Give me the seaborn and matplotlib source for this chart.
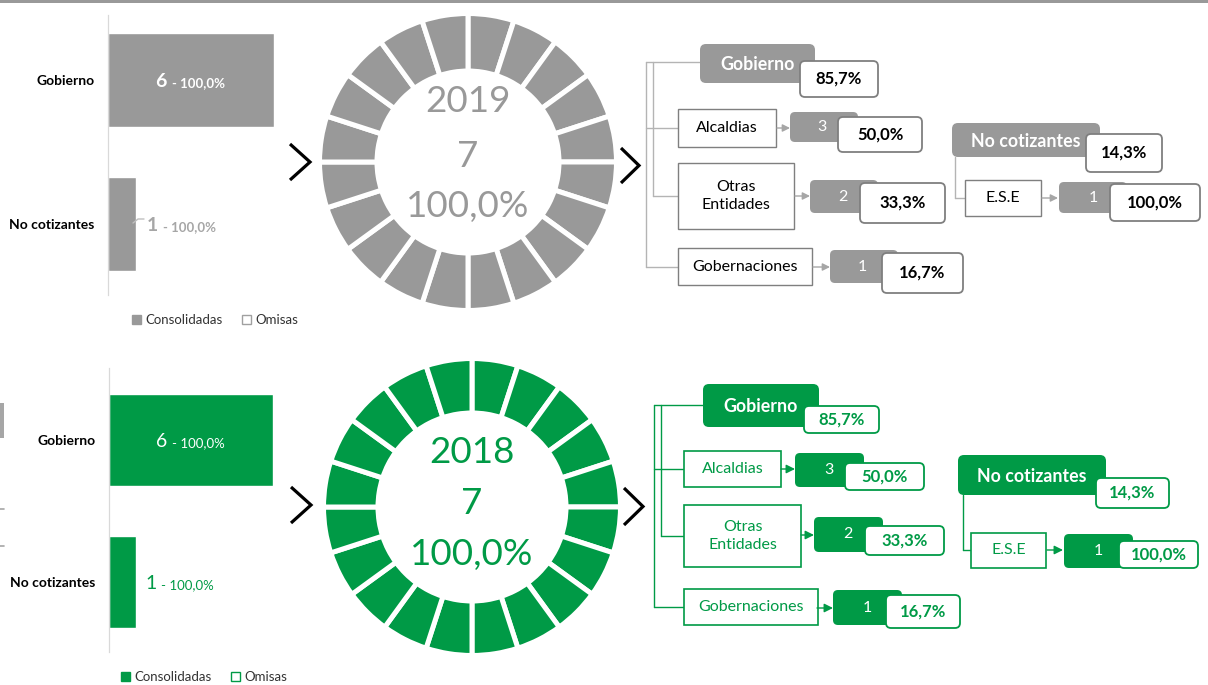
import matplotlib
matplotlib.use("Agg")
import matplotlib.pyplot as plt
import pandas as pd
import seaborn as sns
from matplotlib.patches import FancyBboxPatch, Rectangle, Patch

sns.set_theme(style="white")
plt.rcParams["font.family"] = ["Lato", "DejaVu Sans"]

W, H = 1208, 685

# ---------------- data ----------------
categories = ["Gobierno", "No cotizantes"]
consolidadas_2019 = [6, 1]
consolidadas_2018 = [6, 1]
cat_pct_2019 = ["100,0%", "100,0%"]
cat_pct_2018 = ["100,0%", "100,0%"]
legend_labels = ["Consolidadas", "Omisas"]

years = ["2019", "2018"]
year_totals = [7, 7]
year_pct_text = ["100,0%", "100,0%"]
year_pct = [100.0, 100.0]

group_share = ["85,7%", "14,3%"]
gob_entities = ["Alcaldias", "Otras\nEntidades", "Gobernaciones"]
gob_counts = [3, 2, 1]
gob_pct = ["50,0%", "33,3%", "16,7%"]
nocot_entities = ["E.S.E"]
nocot_counts = [1]
nocot_pct = ["100,0%"]

GRAY = "#999999"
GREEN = "#009a46"
RING_SEGMENTS = 20

fig = plt.figure(figsize=(W / 100, H / 100), dpi=100)
fig.patch.set_facecolor("white")


def px_axes(x0, y0, x1, y1):
    return fig.add_axes([x0 / W, 1 - y1 / H, (x1 - x0) / W, (y1 - y0) / H])


# ---------------- horizontal bar panels ----------------
def bar_panel(rect, ylim, values, pct_labels, color, bold, out_color,
              hollow_edge, legend_xy, inside_dx, outside_dx):
    ax = px_axes(*rect)
    df = pd.DataFrame({"cat": categories, "n": values})
    sns.barplot(data=df, x="n", y="cat", orient="h", color=color,
                saturation=1, width=0.65, ax=ax, zorder=2)
    ax.set_xlim(0, 6)
    ax.set_ylim(*ylim)
    ax.set_xlabel("")
    ax.set_ylabel("")
    ax.set_xticks([])
    ax.set_yticks([0, 1])
    ax.set_yticklabels(categories, fontweight="bold", fontsize=10,
                       color="black")
    ax.tick_params(axis="y", length=0, pad=9.5)
    for s in ("top", "right", "bottom"):
        ax.spines[s].set_visible(False)
    ax.spines["left"].set_color("#d9d9d9")
    ax.spines["left"].set_linewidth(0.9)
    ax.patch.set_alpha(0)
    fw = "bold" if bold else "normal"
    for i, (v, p) in enumerate(zip(values, pct_labels)):
        if v >= 3:
            x, dx, c = v / 2, inside_dx, "white"
        else:
            x, dx, c = v, outside_dx, out_color
        ax.annotate(str(v), xy=(x, i), xytext=(dx, -7),
                    textcoords="offset pixels", ha="right", va="baseline",
                    fontsize=14, fontweight=fw, color=c,
                    annotation_clip=False)
        ax.annotate("- " + p, xy=(x, i), xytext=(dx + 5, -7),
                    textcoords="offset pixels", ha="left", va="baseline",
                    fontsize=9.5, fontweight=fw, color=c,
                    annotation_clip=False)
    handles = [Patch(facecolor=color, edgecolor=color),
               Patch(facecolor="white", edgecolor=hollow_edge, linewidth=1)]
    ax.legend(handles, legend_labels, ncol=2, frameon=False,
              loc="center left",
              bbox_to_anchor=(legend_xy[0] / W, 1 - legend_xy[1] / H),
              bbox_transform=fig.transFigure, fontsize=9.5,
              handlelength=0.7, handleheight=0.7, handletextpad=0.3,
              columnspacing=1.5, borderpad=0, borderaxespad=0,
              labelcolor="#333333")
    return ax


bar_panel((108, 15, 274, 295), (1 + 71 / 144, -65 / 144),
          consolidadas_2019, cat_pct_2019, GRAY, True, "#a6a6a6",
          "#a0a0a0", (132, 320), -24, 22)
bar_panel((109, 368, 273, 652), (1 + 70 / 142, -72 / 142),
          consolidadas_2018, cat_pct_2018, GREEN, False, GREEN,
          GREEN, (121, 677), -24, 20)


# ---------------- segmented rings ----------------
def ring(cx, cy, R, rin, color, share):
    ax = px_axes(cx - R, cy - R, cx + R, cy + R)
    filled = int(round(share / 100 * RING_SEGMENTS))
    colors = [color] * filled + ["#e6e6e6"] * (RING_SEGMENTS - filled)
    ax.pie([1] * RING_SEGMENTS, colors=colors, startangle=90,
           counterclock=False, radius=1.01,
           wedgeprops=dict(width=1.01 - rin / R, edgecolor="white",
                           linewidth=3.6))
    ax.set_xlim(-1, 1)
    ax.set_ylim(-1, 1)
    ax.set_aspect("equal")
    ax.axis("off")


ring(468, 162, 147, 91, GRAY, year_pct[0])
ring(472, 507, 147, 94, GREEN, year_pct[1])

# ---------------- overlay for diagrams ----------------
ov = fig.add_axes([0, 0, 1, 1])
ov.set_xlim(0, W)
ov.set_ylim(H, 0)
ov.axis("off")

# header rule and left-edge fragments
ov.add_patch(Rectangle((0, 0), W, 2.5, fc=GRAY, ec="none"))
ov.add_patch(Rectangle((0, 403), 4, 35, fc="#a6a6a6", ec="none"))
for yy in (509, 546):
    ov.plot([0, 4], [yy, yy], color="#a6a6a6", lw=1.2)

# ring captions
for (cx, y1, y2, y3), yr, tot, pt, c in zip(
        [(468, 101, 156, 206), (472, 452, 504, 555)],
        years, year_totals, year_pct_text, [GRAY, GREEN]):
    for yy, t in zip((y1, y2, y3), (yr, str(tot), pt)):
        ov.text(cx, yy, t, ha="center", va="center", fontsize=26.5, color=c)

# chevrons
for (x0, xt, y0, y1) in [(290, 310, 144, 180), (621, 639, 148, 183),
                         (291, 311, 487, 523), (624, 643, 488, 525)]:
    ov.plot([x0, xt, x0], [y0, (y0 + y1) / 2, y1], color="black", lw=2.3,
            solid_joinstyle="miter", solid_capstyle="butt")


def rbox(b, fc, ec, lw, r, z):
    x0, y0, x1, y1 = b
    style = f"round,pad=0,rounding_size={r}" if r else "square,pad=0"
    ov.add_patch(FancyBboxPatch((x0, y0), x1 - x0, y1 - y0, boxstyle=style,
                                fc=fc, ec=ec, lw=lw, zorder=z))


def ctr(b):
    return (b[0] + b[2]) / 2, (b[1] + b[3]) / 2


def tree(st, heads, head_text, share_boxes, conns, gob_rows, noc_rows):
    for (a, b) in conns:
        ov.plot([a[0], b[0]], [a[1], b[1]], color=st["conn"], lw=1.0,
                zorder=1)
    for hb, ht, name, sb, sh in zip(heads, head_text, categories,
                                    share_boxes, group_share):
        rbox(hb, st["dark"], "none", 0, 6, 2)
        ov.text(*ht, name, ha="center", va="center", color="white",
                fontsize=12.8, fontweight="bold", zorder=5)
        rbox(sb, "white", st["pedge"], 1.3, 5, 3)
        ov.text(*ctr(sb), sh, ha="center", va="center", color=st["ptext"],
                fontsize=12, fontweight="bold", zorder=5)
    rows = list(zip(gob_entities, gob_counts, gob_pct, gob_rows)) + \
        list(zip(nocot_entities, nocot_counts, nocot_pct, noc_rows))
    for name, n, p, g in rows:
        rbox(g["box"], "white", st["bedge"], st["blw"], 0, 2)
        ov.text(*ctr(g["box"]), name, ha="center", va="center",
                color=st["btext"], fontsize=11.5, linespacing=1.35, zorder=5)
        xa, xb, ya = g["arrow"]
        ov.annotate("", xy=(xb, ya), xytext=(xa, ya),
                    arrowprops=dict(arrowstyle="-|>", color=st["arrow"],
                                    lw=1.0, mutation_scale=st["ms"],
                                    shrinkA=0, shrinkB=0), zorder=2)
        rbox(g["nbox"], st["dark"], "none", 0, 5, 2)
        ov.text(g["ntx"], ctr(g["nbox"])[1], str(n), ha="center",
                va="center", color="white", fontsize=11.5, zorder=5)
        rbox(g["pbox"], "white", st["pedge"], 1.3, 5, 3)
        ov.text(*ctr(g["pbox"]), p, ha="center", va="center",
                color=st["ptext"], fontsize=12, fontweight="bold", zorder=5)


style_gray = dict(dark=GRAY, pedge="#7f7f7f", ptext="black", bedge="#7f7f7f",
                  blw=1.0, btext="black", conn="#b4b4b4", arrow="#a6a6a6",
                  ms=11)
style_green = dict(dark=GREEN, pedge=GREEN, ptext=GREEN, bedge=GREEN,
                   blw=1.2, btext=GREEN, conn=GREEN, arrow=GREEN, ms=13)

tree(style_gray,
     heads=[(700, 44, 815, 83), (952, 123, 1100, 157)],
     head_text=[(757.5, 64), (1026, 141)],
     share_boxes=[(800, 61, 878, 97), (1086, 134, 1162, 172)],
     conns=[((646, 62), (646, 267)), ((653, 62), (653, 196)),
            ((646, 62), (700, 62)), ((646, 128), (678, 128)),
            ((653, 196), (678, 196)), ((646, 267), (678, 267)),
            ((955, 157), (955, 198)), ((955, 198), (965, 198))],
     gob_rows=[
         dict(box=(678, 109, 776, 147), arrow=(777, 790, 128),
              nbox=(790, 112, 858, 142), ntx=822, pbox=(838, 117, 922, 152)),
         dict(box=(678, 163, 794, 229), arrow=(795, 810, 196),
              nbox=(810, 180, 878, 213), ntx=843, pbox=(860, 183, 945, 223)),
         dict(box=(678, 248, 812, 285), arrow=(813, 830, 267),
              nbox=(830, 250, 898, 283), ntx=862, pbox=(882, 253, 963, 293)),
     ],
     noc_rows=[
         dict(box=(965, 180, 1041, 216), arrow=(1042, 1058, 198),
              nbox=(1059, 182, 1127, 213), ntx=1093,
              pbox=(1110, 184, 1200, 221)),
     ])

tree(style_green,
     heads=[(703, 384, 819, 427), (958, 455, 1106, 495)],
     head_text=[(761, 406), (1032, 476)],
     share_boxes=[(804, 406, 879, 433), (1096, 478, 1169, 508)],
     conns=[((654, 405), (654, 607)), ((661, 405), (661, 536)),
            ((654, 405), (703, 405)), ((654, 469), (684, 469)),
            ((661, 536), (684, 536)), ((654, 607), (684, 607)),
            ((963, 495), (963, 550)), ((963, 550), (971, 550))],
     gob_rows=[
         dict(box=(684, 451, 781, 487), arrow=(781, 795, 469),
              nbox=(795, 453, 864, 487), ntx=829, pbox=(845, 463, 924, 490)),
         dict(box=(684, 505, 801, 567), arrow=(801, 814, 535),
              nbox=(814, 517, 883, 552), ntx=848, pbox=(865, 526, 944, 555)),
         dict(box=(684, 589, 818, 625), arrow=(817, 833, 608),
              nbox=(833, 590, 902, 625), ntx=867, pbox=(886, 595, 960, 628)),
     ],
     noc_rows=[
         dict(box=(971, 533, 1046, 568), arrow=(1047, 1063, 550),
              nbox=(1064, 534, 1133, 568), ntx=1098,
              pbox=(1119, 541, 1198, 568)),
     ])

# small leader for the outside label of the upper panel
ov.plot([133, 138, 144], [223, 219, 219], color="#bfbfbf", lw=1.0)

fig.savefig("out.png", dpi=100, facecolor="white")
